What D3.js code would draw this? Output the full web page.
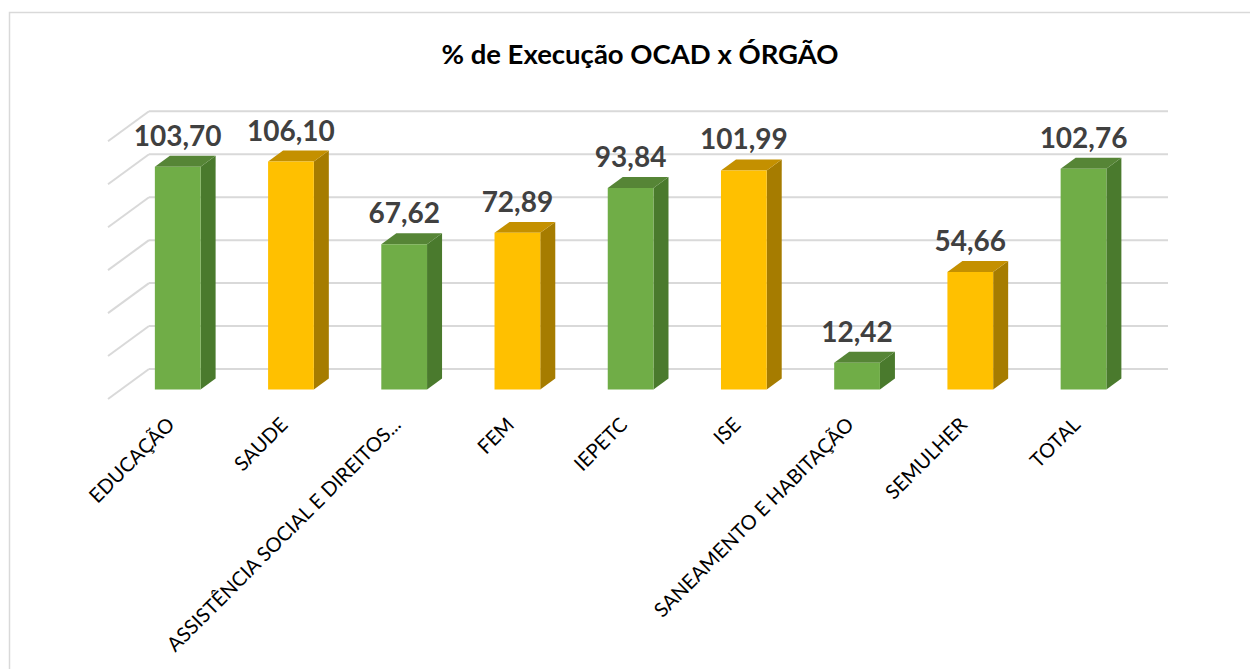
<!DOCTYPE html>
<html>
<head>
<meta charset="utf-8">
<script src="https://cdn.jsdelivr.net/npm/d3@7"></script>
<style>
  body { margin: 0; background: #ffffff; }
  svg { display: block; }
</style>
</head>
<body>
<div id="chart"></div>
<script>

// Data.
const categories = [ 'EDUCAÇÃO', 'SAUDE', 'ASSISTÊNCIA SOCIAL E DIREITOS...', 'FEM', 'IEPETC',
                     'ISE', 'SANEAMENTO E HABITAÇÃO', 'SEMULHER', 'TOTAL' ];
const execution = [ 103.70, 106.10, 67.62, 72.89, 93.84, 101.99, 12.42, 54.66, 102.76 ];
const barColorKeys = [ 'green', 'yellow', 'green', 'yellow', 'green', 'yellow', 'green', 'yellow', 'green' ];
const yTicks = [ 0, 20, 40, 60, 80, 100, 120 ];
const chartTitle = '% de Execução OCAD x ÓRGÃO';

const FONT = 'Lato, Carlito, Calibri, sans-serif';

const settings = {
  width: 1250,
  height: 669,
  // front plane of the 3d box
  front_left: 108,
  front_right: 1127,
  front_zero: 399,
  front_top: 141.3,
  // offset of the back wall compared to the front plane
  depth_dx: 41,
  depth_dy: -30,
  // where the bars sit in the depth of the box (fraction of full depth)
  bar_front_t: 0.32,
  bar_depth_t: 0.366,
  // baseline end of the rotated category labels
  label_y: 426,
  label_dx: -2
};

const palette = {
  green:  { front: '#70ad47', side: '#4a7a2d', top: '#568536' },
  yellow: { front: '#ffc000', side: '#a67c00', top: '#c49000' }
};

const ptbr = d3.formatLocale( { decimal: ',', thousands: '.', grouping: [3], currency: [ 'R$', '' ] } );
const fmt = ptbr.format( '.2f' );

const svg = d3.select( '#chart' )
  .append( 'svg' )
    .attr( 'width', settings.width )
    .attr( 'height', settings.height );

// Chart frame (right and bottom edges fall outside the picture).
svg.append( 'rect' )
  .attr( 'x', 9.5 )
  .attr( 'y', 12.5 )
  .attr( 'width', 1300 )
  .attr( 'height', 700 )
  .attr( 'fill', '#ffffff' )
  .attr( 'stroke', '#d9d9d9' )
  .attr( 'stroke-width', 1.5 );

const x = d3.scaleBand()
  .domain( categories )
  .range( [ settings.front_left, settings.front_right ] )
  .paddingInner( 0.596 )
  .paddingOuter( 0.298 );

const y = d3.scaleLinear()
  .domain( [ 0, 120 ] )
  .range( [ settings.front_zero, settings.front_top ] );

// Oblique projection: front-plane point pushed back by a fraction t of the depth.
function proj( px, value, t ){
  return [ px + t * settings.depth_dx, y( value ) + t * settings.depth_dy ];
}

// Gridlines: side wall (diagonals) and back wall (horizontals).
const grid = svg.append( 'g' )
  .attr( 'stroke', '#d9d9d9' )
  .attr( 'stroke-width', 2 )
  .attr( 'fill', 'none' );

grid.selectAll( 'line.side' )
  .data( yTicks )
  .enter().append( 'line' )
    .attr( 'class', 'side' )
    .attr( 'x1', d => proj( settings.front_left, d, 0 )[0] )
    .attr( 'y1', d => proj( settings.front_left, d, 0 )[1] )
    .attr( 'x2', d => proj( settings.front_left, d, 1 )[0] )
    .attr( 'y2', d => proj( settings.front_left, d, 1 )[1] );

grid.selectAll( 'line.back' )
  .data( yTicks )
  .enter().append( 'line' )
    .attr( 'class', 'back' )
    .attr( 'x1', d => proj( settings.front_left, d, 1 )[0] )
    .attr( 'y1', d => proj( settings.front_left, d, 1 )[1] )
    .attr( 'x2', d => proj( settings.front_right, d, 1 )[0] )
    .attr( 'y2', d => proj( settings.front_right, d, 1 )[1] );

// Bars as three faces: front, side, top.
const rows = categories.map( ( c, i ) => ( { cat: c, value: execution[i], color: palette[ barColorKeys[i] ] } ) );
const t0 = settings.bar_front_t;
const t1 = settings.bar_front_t + settings.bar_depth_t;
const pts = p => p.map( q => q.join( ',' ) ).join( ' ' );

const bars = svg.append( 'g' )
  .selectAll( 'g' )
  .data( rows )
  .enter().append( 'g' );

bars.append( 'polygon' )
  .attr( 'points', d => {
    const r = x( d.cat ) + x.bandwidth();
    return pts( [ proj( r, 0, t0 ), proj( r, 0, t1 ), proj( r, d.value, t1 ), proj( r, d.value, t0 ) ] );
  } )
  .attr( 'fill', d => d.color.side );

bars.append( 'polygon' )
  .attr( 'points', d => {
    const l = x( d.cat ), r = x( d.cat ) + x.bandwidth();
    return pts( [ proj( l, d.value, t0 ), proj( r, d.value, t0 ), proj( r, d.value, t1 ), proj( l, d.value, t1 ) ] );
  } )
  .attr( 'fill', d => d.color.top );

bars.append( 'polygon' )
  .attr( 'points', d => {
    const l = x( d.cat ), r = x( d.cat ) + x.bandwidth();
    return pts( [ proj( l, 0, t0 ), proj( r, 0, t0 ), proj( r, d.value, t0 ), proj( l, d.value, t0 ) ] );
  } )
  .attr( 'fill', d => d.color.front );

// Value labels above each bar.
svg.append( 'g' )
  .selectAll( 'text' )
  .data( rows )
  .enter().append( 'text' )
    .attr( 'x', d => proj( x( d.cat ) + x.bandwidth() / 2, d.value, t0 )[0] )
    .attr( 'y', d => proj( x( d.cat ), d.value, t1 )[1] - 10 )
    .attr( 'text-anchor', 'middle' )
    .attr( 'font-family', FONT )
    .attr( 'font-weight', 'bold' )
    .attr( 'font-size', 28 )
    .attr( 'fill', '#404040' )
    .text( d => fmt( d.value ) );

// Category labels, rotated 45 degrees.
svg.append( 'g' )
  .selectAll( 'text' )
  .data( rows )
  .enter().append( 'text' )
    .attr( 'transform', d => {
      const cx = proj( x( d.cat ) + x.bandwidth() / 2, 0, t0 )[0] + settings.label_dx;
      return 'translate(' + cx + ',' + settings.label_y + ') rotate(-45)';
    } )
    .attr( 'text-anchor', 'end' )
    .attr( 'font-family', FONT )
    .attr( 'font-size', 20 )
    .attr( 'fill', '#000000' )
    .text( d => d.cat );

// Title.
svg.append( 'text' )
  .attr( 'x', 640 )
  .attr( 'y', 63.5 )
  .attr( 'text-anchor', 'middle' )
  .attr( 'font-family', FONT )
  .attr( 'font-weight', 'bold' )
  .attr( 'font-size', 27.5 )
  .attr( 'fill', '#000000' )
  .text( chartTitle );

</script>
</body>
</html>
